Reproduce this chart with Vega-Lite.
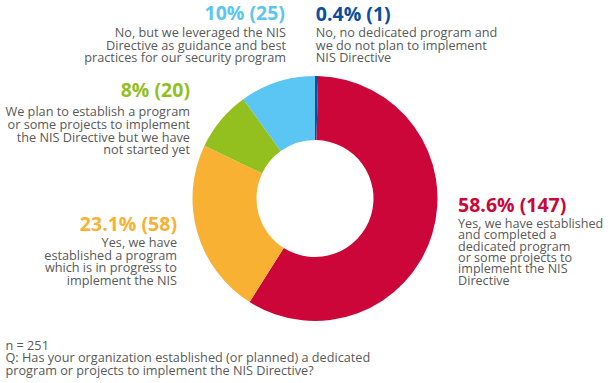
{
  "$schema": "https://vega.github.io/schema/vega-lite/v6.json",
  "width": 245,
  "height": 245,
  "autosize": {"type": "none"},
  "padding": {"left": 192.5, "top": 76, "right": 174.5, "bottom": 62},
  "background": "white",
  "view": {"stroke": null},
  "config": {"font": "Open Sans", "text": {"font": "Open Sans"}},
  "title": {
    "text": ["n = 251", "Q: Has your organization established (or planned) a dedicated", "program or projects to implement the NIS Directive?"],
    "orient": "bottom",
    "anchor": "start",
    "align": "left",
    "dx": 0,
    "offset": 19,
    "font": "Open Sans",
    "fontSize": 12.7,
    "fontWeight": "normal",
    "lineHeight": 12.3,
    "color": "#595959"
  },
  "data": {
    "values": [
      {"cat": "no_plan", "count": 1, "rank": 1, "title": "0.4% (1)", "desc": "No, no dedicated program and\nwe do not plan to implement\nNIS Directive"},
      {"cat": "completed", "count": 147, "rank": 2, "title": "58.6% (147)", "desc": "Yes, we have established\nand completed a\ndedicated program\nor some projects to\nimplement the NIS\nDirective"},
      {"cat": "in_progress", "count": 58, "rank": 3, "title": "23.1% (58)", "desc": "Yes, we have\nestablished a program\nwhich is in progress to\nimplement the NIS"},
      {"cat": "planned", "count": 20, "rank": 4, "title": "8% (20)", "desc": "We plan to establish a program\nor some projects to implement\nthe NIS Directive but we have\nnot started yet"},
      {"cat": "leveraged", "count": 25, "rank": 5, "title": "10% (25)", "desc": "No, but we leveraged the NIS\nDirective as guidance and best\npractices for our security program"}
    ]
  },
  "encoding": {
    "theta": {"field": "count", "type": "quantitative", "stack": true},
    "order": {"field": "rank", "type": "quantitative"},
    "color": {
      "field": "cat",
      "type": "nominal",
      "legend": null,
      "scale": {
        "domain": ["no_plan", "completed", "in_progress", "planned", "leveraged"],
        "range": ["#0a4f9e", "#cc0638", "#f8b133", "#93c01f", "#5bc6f3"]
      }
    }
  },
  "layer": [
    {"mark": {"type": "arc", "innerRadius": 58.5, "outerRadius": 122.5}},

    {"mark": {"type": "text", "radius": 145, "align": "left", "baseline": "middle", "dx": -1, "dy": -39, "fontSize": 19.5, "fontWeight": "bold"},
     "encoding": {"text": {"condition": {"test": "datum.cat === 'no_plan'", "field": "title"}, "value": ""}}},
    {"mark": {"type": "text", "radius": 145, "align": "left", "baseline": "top", "dx": -1, "dy": -26.5, "fontSize": 12.7, "lineHeight": 12.6, "lineBreak": "\n"},
     "encoding": {"color": {"value": "#595959"}, "text": {"condition": {"test": "datum.cat === 'no_plan'", "field": "desc"}, "value": ""}}},

    {"mark": {"type": "text", "radius": 145, "align": "right", "baseline": "middle", "dx": 14.6, "dy": -46.5, "fontSize": 19.5, "fontWeight": "bold"},
     "encoding": {"text": {"condition": {"test": "datum.cat === 'leveraged'", "field": "title"}, "value": ""}}},
    {"mark": {"type": "text", "radius": 145, "align": "right", "baseline": "top", "dx": 15.6, "dy": -33.5, "fontSize": 12.7, "lineHeight": 12.6, "lineBreak": "\n"},
     "encoding": {"color": {"value": "#595959"}, "text": {"condition": {"test": "datum.cat === 'leveraged'", "field": "desc"}, "value": ""}}},

    {"mark": {"type": "text", "radius": 145, "align": "right", "baseline": "middle", "dx": -13.6, "dy": -14.5, "fontSize": 19.5, "fontWeight": "bold"},
     "encoding": {"text": {"condition": {"test": "datum.cat === 'planned'", "field": "title"}, "value": ""}}},
    {"mark": {"type": "text", "radius": 145, "align": "right", "baseline": "top", "dx": -13.6, "dy": 0.3, "fontSize": 12.7, "lineHeight": 12.8, "lineBreak": "\n"},
     "encoding": {"color": {"value": "#595959"}, "text": {"condition": {"test": "datum.cat === 'planned'", "field": "desc"}, "value": ""}}},

    {"mark": {"type": "text", "radius": 145, "align": "right", "baseline": "middle", "dx": 1.3, "dy": -13.7, "fontSize": 19.5, "fontWeight": "bold"},
     "encoding": {"text": {"condition": {"test": "datum.cat === 'in_progress'", "field": "title"}, "value": ""}}},
    {"mark": {"type": "text", "radius": 145, "align": "right", "baseline": "top", "dx": 1.3, "dy": -1.5, "fontSize": 12.7, "lineHeight": 12.5, "lineBreak": "\n"},
     "encoding": {"color": {"value": "#595959"}, "text": {"condition": {"test": "datum.cat === 'in_progress'", "field": "desc"}, "value": ""}}},

    {"mark": {"type": "text", "radius": 145, "align": "left", "baseline": "middle", "dx": 4.3, "dy": -34.5, "fontSize": 19.5, "fontWeight": "bold"},
     "encoding": {"text": {"condition": {"test": "datum.cat === 'completed'", "field": "title"}, "value": ""}}},
    {"mark": {"type": "text", "radius": 145, "align": "left", "baseline": "top", "dx": 4.3, "dy": -22.5, "fontSize": 12.6, "lineHeight": 11.3, "lineBreak": "\n"},
     "encoding": {"color": {"value": "#595959"}, "text": {"condition": {"test": "datum.cat === 'completed'", "field": "desc"}, "value": ""}}}
  ]
}
